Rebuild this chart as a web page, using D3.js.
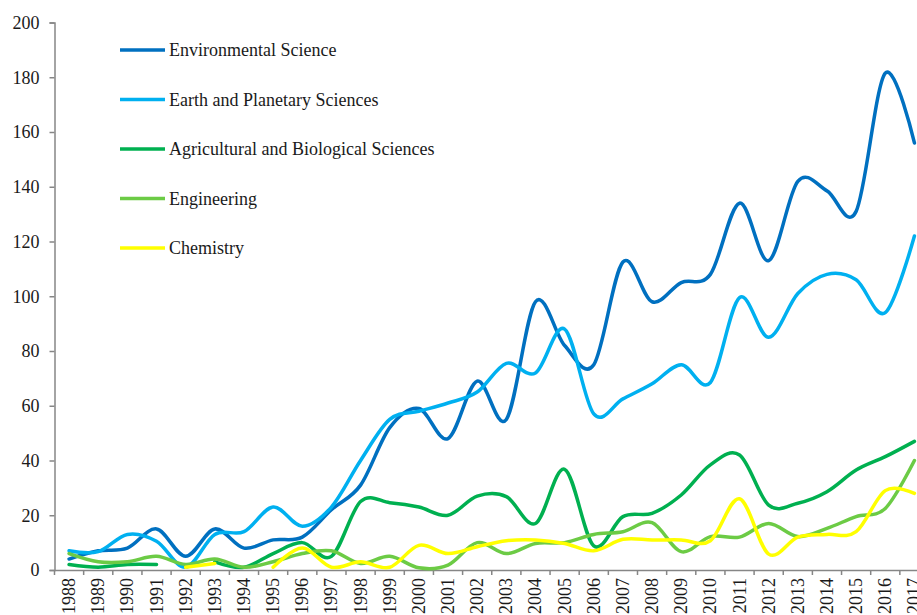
<!DOCTYPE html>
<html><head><meta charset="utf-8">
<script src="https://cdn.jsdelivr.net/npm/d3@7"></script>
<style>
html,body{margin:0;padding:0;background:#fff;overflow:hidden;}
svg{display:block;}
svg text{font-family:"Liberation Serif","Times New Roman",Times,"DejaVu Serif",serif !important;}
</style></head>
<body>
<svg id="chart" width="917" height="615"></svg>
<script>
const years = ["1988","1989","1990","1991","1992","1993","1994","1995","1996","1997","1998","1999","2000","2001","2002","2003","2004","2005","2006","2007","2008","2009","2010","2011","2012","2013","2014","2015","2016","2017"];
const yTicks = [0,20,40,60,80,100,120,140,160,180,200];
const seriesNames = ["Environmental Science","Earth and Planetary Sciences","Agricultural and Biological Sciences","Engineering","Chemistry"];
const seriesColors = ["#0070C0","#00B0F0","#00B050","#6CCB45","#FFFF00"];
const envScience = [4,7,8,15,5,15,8,11,12,22,31,52,59,48,69,55,98,82,75,112.5,98,105,108,134,113,142,138.5,131,181.5,156];
const earthPlanetary = [7,6.7,13,10.5,1,13,14,23,16,23,40,55,58,61,65,75.5,72,88,57,62.5,68,75,68.5,99.5,85,101,108,106,94,122];
const agriBio = [2,1,2,2,null,3,1,6,10,5,25,24.6,23,20,27,26.8,17,36.8,8.8,19.5,20.7,27.4,38.4,42,23.7,24.4,28.6,36.5,41.4,47];
const engineering = [6,3,3,5,2,4,1,3,6,7,2.4,5,0.8,1.8,10,6,9.7,10,13,14,17.3,6.7,12.2,12,17,12.2,15.2,19.5,22.5,40];
const chemistry = [null,null,null,null,1,2.4,null,1,8,1,3,1,9,6,8.5,10.7,11,9.7,7,11.2,11,11,10.7,26,5.8,12,13,14,29,28];
const allSeries = [envScience, earthPlanetary, agriBio, engineering, chemistry];

const svg = d3.select("#chart");
const x = d3.scaleBand().domain(years).range([54.5, 929]);
const y = d3.scaleLinear().domain([0,200]).range([570, 22.5]);
const axisColor = "#868686";

// Y axis
const yAxis = svg.append("g").attr("transform","translate(54.5,0)")
  .call(d3.axisLeft(y).tickValues(yTicks).tickSize(5).tickPadding(10).tickFormat(d3.format("d")));
yAxis.attr("font-family",null);
yAxis.select(".domain").attr("stroke",axisColor).attr("stroke-width",1.5);
yAxis.selectAll(".tick line").attr("stroke",axisColor).attr("stroke-width",1.5);
yAxis.selectAll(".tick text").attr("font-size","18px").attr("fill","#1a1a1a");

// X axis
const xAxis = svg.append("g").attr("transform","translate(0,570)")
  .call(d3.axisBottom(x).tickSize(0).tickPadding(0).tickSizeOuter(0));
xAxis.attr("font-family",null);
xAxis.select(".domain").attr("stroke",axisColor).attr("stroke-width",1.5);
xAxis.selectAll(".tick text").remove();
xAxis.selectAll("line.bt").data(years).enter().append("line").attr("class","bt")
  .attr("x1",d=>x(d)).attr("x2",d=>x(d)).attr("y1",0).attr("y2",5)
  .attr("stroke",axisColor).attr("stroke-width",1.5);
xAxis.selectAll("text.yl").data(years).enter().append("text").attr("class","yl")
  .attr("transform",d=>`translate(${x(d)+x.bandwidth()/2+6},8) rotate(-90)`)
  .attr("text-anchor","end").attr("font-size","18px").attr("fill","#1a1a1a")
  .text(d=>d);

// Lines
const line = d3.line()
  .defined(d=>d.v!==null)
  .x(d=>x(d.year)+x.bandwidth()/2)
  .y(d=>y(d.v))
  .curve(d3.curveCardinal.tension(0));
allSeries.forEach((vals,i)=>{
  const data = years.map((yr,j)=>({year:yr,v:vals[j]}));
  svg.append("path").datum(data).attr("d",line)
    .attr("fill","none").attr("stroke",seriesColors[i]).attr("stroke-width",3.5)
    .attr("stroke-linecap","round").attr("stroke-linejoin","round");
});

// Legend
const legend = svg.append("g");
seriesNames.forEach((name,i)=>{
  const ly = 50 + i*49.5;
  legend.append("line").attr("x1",120).attr("x2",165).attr("y1",ly).attr("y2",ly)
    .attr("stroke",seriesColors[i]).attr("stroke-width",3.5);
  legend.append("text").attr("x",169).attr("y",ly).attr("dy","0.35em")
    .attr("font-size","18px").attr("fill","#1a1a1a").text(name);
});
</script>
</body></html>
